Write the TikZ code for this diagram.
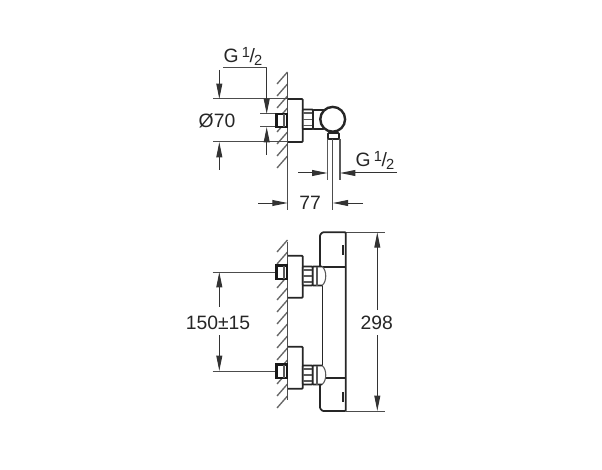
\documentclass[tikz,border=0pt]{standalone}
\usepackage{fontspec}
\setmainfont{Liberation Sans}
\usetikzlibrary{arrows.meta,positioning,calc}
\newcommand{\halfsize}{G\,\raisebox{.42ex}{\fontsize{11pt}{12pt}\selectfont 1}\kern-.02em/\kern-.05em\raisebox{-.32ex}{\fontsize{11pt}{12pt}\selectfont 2}}
\begin{document}
\begin{tikzpicture}[x=.75pt,y=-.75pt,
        dim/.style={draw=black!70,line width=.75pt},
        dimarrow/.style={draw=black!80,line width=.75pt,-{Triangle[length=11.5pt,width=4.4pt]}},
        part/.style={draw=black!85,line width=1.3pt,fill=white,rounded corners=.6pt},
        stub/.style={draw=black!90,line width=1.7pt,fill=white},
        detail/.style={draw=black!65,line width=.8pt},
        hatchline/.style={draw=black!60,line width=1pt},
        label/.style={font=\fontsize{14.5pt}{16pt}\selectfont,text=black!85,inner sep=1pt}]
        \useasboundingbox (0,0) rectangle (602,470);
        % hatching of the wall
        \foreach \y in {84,96,...,168} \draw[hatchline] (277,\y) -- (287.5,\y-12);
        \foreach \y in {252,264,...,408} \draw[hatchline] (277,\y) -- (287.5,\y-12);
        % side view
        \draw[dim,line width=1pt] (287.7,73) -- (287.7,210);
        \draw[dim] (213,99) -- (288,99);
        \draw[dim] (213,142) -- (288,142);
        \draw[dim] (260,114) -- (277,114);
        \draw[dim] (260,127) -- (277,127);
        \draw[part] (288,99) -- (302.7,99) -- (302.7,142) -- (288,142);
        \draw[stub] (276.5,114) rectangle (287,127);
        \draw[detail] (284,114) -- (284,127);
        \draw[part] (302.7,109.5) rectangle (313,129);
        \draw[detail] (303,113) -- (313,113) (303,119.3) -- (313,119.3) (303,125.5) -- (313,125.5);
        \draw[part] (313,110) rectangle (324,129);
        \draw[part] (328,133) rectangle (339,139);
        \draw[part,line width=1.8pt] (332.7,119.3) circle (12.4);
        \draw[detail] (327.5,139) -- (327.5,180);
        \draw[detail] (340,139) -- (340,180);
        \draw[dim] (332.7,139) -- (332.7,210);
        % side view dimensions
        \node[label] (thread1) at (243,56.5) {\halfsize};
        \coordinate (thread1a) at (223,68);
        \coordinate (thread1b) at (266.7,68);
        \coordinate (thread1c) at (266.7,114);
        \draw[dim] (thread1a) -- (thread1b);
        \draw[dimarrow] (thread1b) -- (thread1c);
        \draw[dimarrow] (266.7,155) -- (266.7,127);
        \node[label] (dia) at (217,121) {Ø70};
        \draw[dimarrow] (219.3,70) -- (219.3,99);
        \draw[dimarrow] (219.3,170) -- (219.3,142);
        \node[label] (thread2) at (375,160.5) {\halfsize};
        \draw[dimarrow] (298,173) -- (327.5,173);
        \draw[dimarrow] (397,173) -- (340,173);
        \node[label] (depth) at (310,203) {77};
        \draw[dimarrow] (258,203) -- (287.7,203);
        \draw[dimarrow] (363,203) -- (332.7,203);
        % front view
        \draw[dim,line width=1pt] (287.5,242) -- (287.5,400);
        \draw[dim] (212.7,272) -- (277,272);
        \draw[dim] (212.7,371) -- (277,371);
        \draw[dim] (345.7,232.3) -- (385,232.3);
        \draw[dim] (345.7,411) -- (385,411);
        \draw[part] (322.5,266.7) -- (322.5,378);
        \draw[part,fill=none] (320,266.7) -- (320,235) -- (322.5,232.3) -- (345.7,232.3) -- (345.7,411) -- (322.5,411) -- (320,408.3) -- (320,378) -- (345.7,378);
        \draw[part] (320,266.7) -- (345.7,266.7);
        \draw[black!85,line width=1.3pt] (343,245) -- (343,255) (343,392) -- (343,402);
        \foreach \y/\t in {272/255.7,371/346.7} {
          \draw[part] (288,\t) -- (302.7,\t) -- (302.7,\t+42) -- (288,\t+42);
          \draw[stub] (276.5,\y-6.5) rectangle (287,\y+7);
          \draw[detail] (284,\y-6.5) -- (284,\y+7);
          \draw[part] (302.7,\y-5.5) rectangle (312.7,\y+13.5);
          \draw[detail] (303,\y-2) -- (312.7,\y-2) (303,\y+4) -- (312.7,\y+4) (303,\y+10) -- (312.7,\y+10);
          \draw[detail,fill=white] (322,\y-5.5) .. controls (327,\y-2) and (327,\y+10) .. (322,\y+13.5);
          \draw[part] (322,\y-5.5) -- (312.7,\y-5.5) -- (312.7,\y+13.5) -- (322,\y+13.5);
          \draw[detail] (317,\y-5.5) -- (317,\y+13.5);
        }
        % front view dimensions
        \node[label] (spacing) at (218,323) {150±15};
        \draw[dimarrow] (219.3,306.7) -- (219.3,272);
        \draw[dimarrow] (219.3,335) -- (219.3,371);
        \node[label] (height) at (376.7,323) {298};
        \draw[dimarrow] (377.3,310) -- (377.3,232.3);
        \draw[dimarrow] (377.3,335) -- (377.3,411);
      \end{tikzpicture}
\end{document}
